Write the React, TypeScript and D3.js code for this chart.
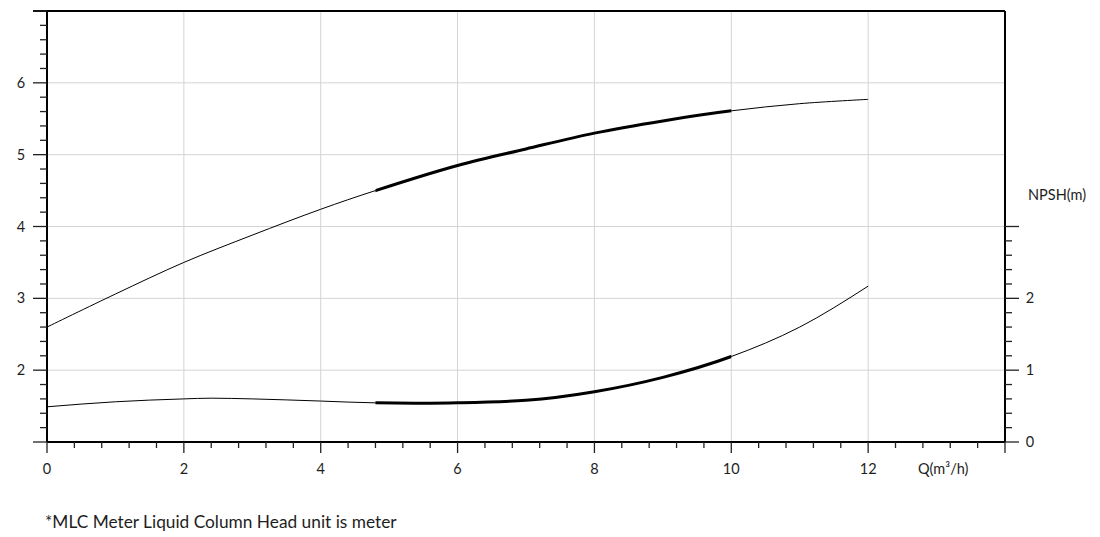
import React from "react";
import * as d3 from "d3";

const headQ = [0, 1, 2, 3, 4, 4.8, 6, 7, 8, 9, 10, 11, 12];
const headH = [2.6, 3.06, 3.5, 3.88, 4.24, 4.5, 4.85, 5.08, 5.3, 5.47, 5.61, 5.71, 5.77];
const npshQ = [0, 1, 2, 2.4, 3, 4, 4.8, 5.6, 6, 7, 8, 9, 10, 11, 12];
const npshV = [0.49, 0.56, 0.6, 0.61, 0.6, 0.57, 0.545, 0.54, 0.545, 0.58, 0.7, 0.9, 1.19, 1.6, 2.17];
const dutyRange = [4.8, 10];
const xTicks = [0, 2, 4, 6, 8, 10, 12];
const leftTicks = [2, 3, 4, 5, 6];
const rightTicks = [0, 1, 2];
const footnote = "*MLC Meter Liquid Column Head unit is meter";

export default function App() {
  const L = 47, R = 1005, T = 11, B = 442;
  const x = d3.scaleLinear().domain([0, 14]).range([L, R]);
  const yL = d3.scaleLinear().domain([1, 7]).range([B, T]);
  const yR = d3.scaleLinear().domain([0, 6]).range([B, T]);
  const font = "Lato, 'Open Sans', sans-serif";
  const txt = "#1e1e1e";
  const fs = 14.5;

  const headPts: [number, number][] = headQ.map((q, i) => [q, headH[i]]);
  const npshPts: [number, number][] = npshQ.map((q, i) => [q, npshV[i]]);
  const headLine = d3.line<[number, number]>().x(d => x(d[0])).y(d => yL(d[1])).curve(d3.curveCatmullRom.alpha(0.5));
  const npshLine = d3.line<[number, number]>().x(d => x(d[0])).y(d => yR(d[1])).curve(d3.curveMonotoneX);

  const xMinor = d3.range(0, 14.001, 0.4).filter(v => Math.abs(v / 2 - Math.round(v / 2)) > 0.01);
  const xMajor = d3.range(0, 14.001, 2);
  const lMinor = d3.range(1, 7.001, 0.2);
  const rMinor = d3.range(0, 3.001, 0.2);

  return (
    <svg width={1100} height={537} style={{ position: "absolute", left: 0, top: 0, background: "#fff" }}>
      <defs>
        <clipPath id="duty">
          <rect x={x(dutyRange[0])} y={0} width={x(dutyRange[1]) - x(dutyRange[0])} height={537} />
        </clipPath>
      </defs>
      <rect x={0} y={0} width={1100} height={537} fill="#fff" />
      {xTicks.filter(v => v > 0).map(v => (
        <line key={"gx" + v} x1={x(v)} x2={x(v)} y1={T} y2={B} stroke="#d4d4d4" strokeWidth={1} />
      ))}
      {leftTicks.map(v => (
        <line key={"gy" + v} x1={L} x2={R} y1={yL(v)} y2={yL(v)} stroke="#d4d4d4" strokeWidth={1} />
      ))}
      <path d={headLine(headPts) || ""} fill="none" stroke="#000" strokeWidth={1} />
      <path d={npshLine(npshPts) || ""} fill="none" stroke="#000" strokeWidth={1} />
      <g clipPath="url(#duty)">
        <path d={headLine(headPts) || ""} fill="none" stroke="#000" strokeWidth={3} />
        <path d={npshLine(npshPts) || ""} fill="none" stroke="#000" strokeWidth={3} />
      </g>
      <line x1={L} x2={L} y1={T} y2={B} stroke="#000" strokeWidth={2} />
      <line x1={L - 14} x2={R} y1={T} y2={T} stroke="#000" strokeWidth={2} />
      <line x1={R} x2={R} y1={T} y2={B} stroke="#000" strokeWidth={2} />
      <line x1={L} x2={R} y1={B} y2={B} stroke="#000" strokeWidth={2} />
      {lMinor.map(v => {
        const major = Math.abs(v - Math.round(v)) < 0.01;
        return <line key={"lt" + v} x1={L - (major ? 14 : 7)} x2={L} y1={yL(v)} y2={yL(v)} stroke="#222" strokeWidth={1.3} />;
      })}
      {leftTicks.map(v => (
        <text key={"ll" + v} x={21} y={yL(v)} dy="0.35em" textAnchor="middle" fontSize={fs} fontFamily={font} fill={txt}>{v}</text>
      ))}
      {rMinor.map(v => {
        const major = Math.abs(v - Math.round(v)) < 0.01;
        return <line key={"rt" + v} x1={R} x2={R + (major ? 14 : 7)} y1={yR(v)} y2={yR(v)} stroke="#222" strokeWidth={1.3} />;
      })}
      {rightTicks.map(v => (
        <text key={"rl" + v} x={1030} y={yR(v)} dy="0.35em" textAnchor="middle" fontSize={fs} fontFamily={font} fill={txt}>{v}</text>
      ))}
      <text x={1028} y={195} dy="0.35em" fontSize={fs} fontFamily={font} fill={txt}>NPSH(m)</text>
      {xMajor.map(v => (
        <line key={"bx" + v} x1={x(v)} x2={x(v)} y1={B} y2={B + 11} stroke="#222" strokeWidth={1.3} />
      ))}
      {xMinor.map(v => (
        <line key={"bm" + v} x1={x(v)} x2={x(v)} y1={B} y2={B + 6} stroke="#222" strokeWidth={1.3} />
      ))}
      {xTicks.map(v => (
        <text key={"xl" + v} x={x(v)} y={469} dy="0.35em" textAnchor="middle" fontSize={fs} fontFamily={font} fill={txt}>{v}</text>
      ))}
      <text x={918} y={469} dy="0.35em" fontSize={fs} fontFamily={font} fill={txt}>Q(m³/h)</text>
      <text x={45} y={522} dy="0.35em" fontSize={17.3} fontFamily={font} fill={txt}>{footnote}</text>
    </svg>
  );
}
